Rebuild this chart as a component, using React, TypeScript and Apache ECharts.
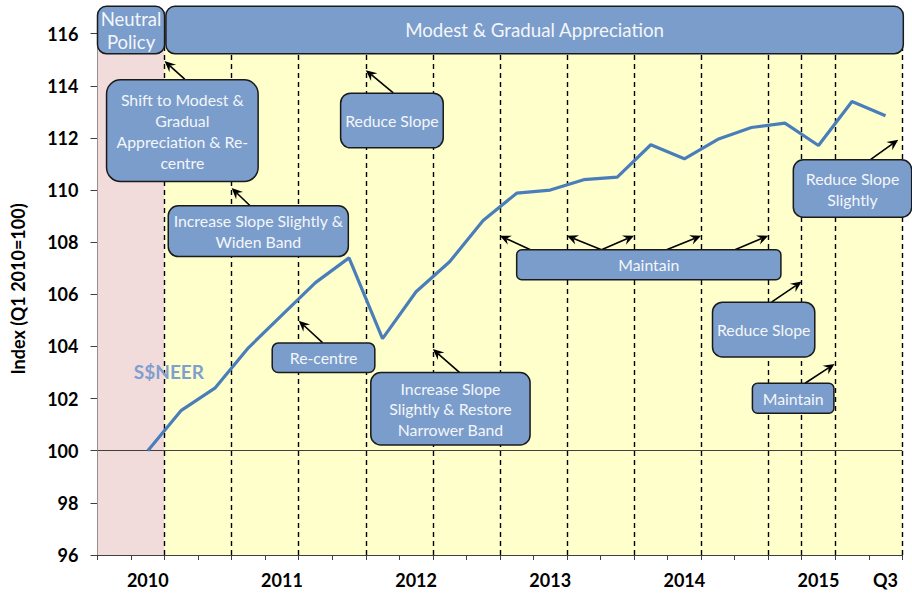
import React, { useEffect, useRef } from 'react';
import * as echarts from 'echarts';

// ---- data ----
const quarters = [
  '2009 Q4', '2010 Q1', '2010 Q2', '2010 Q3', '2010 Q4', '2011 Q1', '2011 Q2', '2011 Q3',
  '2011 Q4', '2012 Q1', '2012 Q2', '2012 Q3', '2012 Q4', '2013 Q1', '2013 Q2', '2013 Q3',
  '2013 Q4', '2014 Q1', '2014 Q2', '2014 Q3', '2014 Q4', '2015 Q1', '2015 Q2', '2015 Q3',
];
const axisLabels = [
  '', '2010', '', '', '', '2011', '', '', '', '2012', '', '', '', '2013', '', '', '', '2014',
  '', '', '', '2015', '', 'Q3',
];
const sneer = [
  null, 100, 101.55, 102.4, 103.95, 105.2, 106.45, 107.4, 104.3, 106.1, 107.25, 108.83,
  109.88, 110.0, 110.4, 110.5, 111.74, 111.2, 111.95, 112.4, 112.57, 111.71, 113.4, 112.85,
];
const yMin = 96;
const yMax = 116;
const yStep = 2;
// policy statement dates, in quarter-boundary units (0 = start of 2009 Q4)
const policyDates = [2, 4, 6, 8, 10, 12, 14, 16, 18, 20, 21, 22, 24];
const neutralPeriod = [0, 2];
const appreciationPeriod = [2, 24];
const seriesName = 'S$NEER';

// ---- annotation layout (data units: quarter boundary, index value) ----
type Ann = {
  text: string;
  box: [number, number, number, number];
  size: number;
  lh: number;
  r?: number;
  arrows?: [number, number, number, number][];
};
const annotations: Ann[] = [
  { text: 'Neutral\nPolicy', box: [0, 117.05, 2.0, 115.23], size: 18.5, lh: 23, r: 9 },
  { text: 'Modest & Gradual Appreciation', box: [2.04, 117.05, 24.03, 115.23], size: 18.7, lh: 22, r: 9 },
  {
    text: 'Shift to Modest &\nGradual\nAppreciation & Re-\ncentre', box: [0.27, 114.23, 4.79, 110.33],
    size: 15.8, lh: 21, r: 14, arrows: [[2.6, 114.26, 2.0, 114.95]],
  },
  {
    text: 'Reduce Slope', box: [7.25, 113.72, 10.31, 111.62], size: 15.8, lh: 20, r: 10,
    arrows: [[8.82, 113.73, 8.0, 114.6]],
  },
  {
    text: 'Increase Slope Slightly &\nWiden Band', box: [2.11, 109.4, 7.48, 107.45], size: 15.8, lh: 20.7, r: 10,
    arrows: [[4.55, 109.4, 4.0, 110.08]],
  },
  {
    text: 'Re-centre', box: [5.21, 104.13, 8.27, 103.0], size: 15.8, lh: 20, r: 6,
    arrows: [[6.71, 104.15, 6.0, 104.99]],
  },
  {
    text: 'Increase Slope\nSlightly & Restore\nNarrower Band', box: [8.15, 103.0, 12.9, 100.22], size: 15.8, lh: 20.7, r: 10,
    arrows: [[10.81, 102.99, 10.0, 103.9]],
  },
  {
    text: 'Maintain', box: [12.5, 107.71, 20.38, 106.56], size: 15.8, lh: 20, r: 5,
    arrows: [
      [12.91, 107.71, 12.0, 108.25],
      [15.03, 107.71, 14.0, 108.25],
      [15.03, 107.71, 16.0, 108.25],
      [16.97, 107.71, 18.0, 108.25],
      [19.01, 107.71, 20.0, 108.25],
    ],
  },
  {
    text: 'Reduce Slope', box: [18.34, 105.7, 21.39, 103.6], size: 15.8, lh: 20, r: 10,
    arrows: [[20.1, 105.7, 21.0, 106.49]],
  },
  {
    text: 'Maintain', box: [19.53, 102.59, 21.96, 101.44], size: 15.8, lh: 20, r: 5,
    arrows: [[21.1, 102.59, 21.98, 103.33]],
  },
  {
    text: 'Reduce Slope\nSlightly', box: [20.75, 111.16, 24.28, 108.96], size: 15.8, lh: 21, r: 10,
    arrows: [[23.04, 111.16, 23.88, 111.93]],
  },
];

const FONT = 'Lato, "Open Sans", sans-serif';
const BOX_FILL = '#7A9DCB';
const TEXT_FILL = '#F4F6FA';

function arrowEls(x1: number, y1: number, x2: number, y2: number) {
  const dx = x2 - x1;
  const dy = y2 - y1;
  const len = Math.sqrt(dx * dx + dy * dy) || 1;
  const ux = dx / len;
  const uy = dy / len;
  const nx = -uy;
  const ny = ux;
  const L = 11;
  const W = 5;
  const notch = 0.65;
  const bx = x2 - ux * L;
  const by = y2 - uy * L;
  const mx = x2 - ux * L * notch;
  const my = y2 - uy * L * notch;
  return [
    {
      type: 'line', z: 99, silent: true,
      shape: { x1, y1, x2: mx, y2: my },
      style: { stroke: '#000', lineWidth: 1.6 },
    },
    {
      type: 'polygon', z: 99, silent: true,
      shape: { points: [[x2, y2], [bx + nx * W, by + ny * W], [mx, my], [bx - nx * W, by - ny * W]] },
      style: { fill: '#000' },
    },
  ];
}

export default function App() {
  const ref = useRef<HTMLDivElement>(null);
  useEffect(() => {
    if (!ref.current) return;
    const chart = echarts.init(ref.current, undefined, { renderer: 'svg' });
    const option: any = {
      animation: false,
      backgroundColor: '#ffffff',
      grid: { left: 97.5, right: 9.7, top: 33.7, bottom: 41, containLabel: false },
      xAxis: [
        {
          type: 'category',
          data: quarters,
          boundaryGap: true,
          axisLine: { lineStyle: { color: '#404040', width: 1 } },
          axisTick: { show: true, interval: 0, length: 5, lineStyle: { color: '#404040' } },
          axisLabel: {
            interval: 0,
            margin: 16,
            formatter: (_v: string, i: number) => axisLabels[i],
            color: '#000',
            fontFamily: FONT,
            fontWeight: 'bold',
            fontSize: 18,
          },
          splitLine: { show: false },
        },
        {
          type: 'value',
          min: 0,
          max: 24,
          show: false,
        },
      ],
      yAxis: {
        type: 'value',
        min: yMin,
        max: yMax,
        interval: yStep,
        axisLine: { show: true, lineStyle: { color: '#404040', width: 1 } },
        axisTick: { show: true, length: 7, lineStyle: { color: '#404040' } },
        axisLabel: {
          margin: 19,
          color: '#000',
          fontFamily: FONT,
          fontWeight: 'bold',
          fontSize: 18,
        },
        splitLine: { show: false },
      },
      series: [
        {
          type: 'line',
          name: 'regimes',
          xAxisIndex: 1,
          yAxisIndex: 0,
          data: [[0, yMin]],
          symbol: 'none',
          lineStyle: { opacity: 0 },
          silent: true,
          z: 1,
          markArea: {
            silent: true,
            data: [
              [{ xAxis: neutralPeriod[0], itemStyle: { color: '#F2DCDB' } }, { xAxis: neutralPeriod[1] }],
              [{ xAxis: appreciationPeriod[0], itemStyle: { color: '#FFFFCC' } }, { xAxis: appreciationPeriod[1] }],
            ],
          },
          markLine: {
            silent: true,
            symbol: 'none',
            label: { show: false },
            data: [
              ...policyDates.map((q) => ({
                xAxis: q,
                lineStyle: { type: [5, 4], color: '#000', width: 1.4 },
              })),
              { yAxis: 100, lineStyle: { type: 'solid', color: '#404040', width: 1 } },
            ],
          },
        },
        {
          type: 'line',
          name: seriesName,
          xAxisIndex: 0,
          yAxisIndex: 0,
          data: sneer,
          showSymbol: false,
          symbol: 'none',
          lineStyle: { color: '#4A7EBB', width: 3.2 },
          z: 5,
        },
      ],
    };
    chart.setOption(option);

    const X = (q: number) => chart.convertToPixel({ xAxisIndex: 1 } as any, q) as number;
    const Y = (v: number) => chart.convertToPixel({ yAxisIndex: 0 } as any, v) as number;

    const graphics: any[] = [];
    for (const a of annotations) {
      const x0 = X(a.box[0]);
      const y0 = Y(a.box[1]);
      const x1 = X(a.box[2]);
      const y1 = Y(a.box[3]);
      graphics.push({
        type: 'rect', z: 100, silent: true,
        shape: { x: x0, y: y0, width: x1 - x0, height: y1 - y0, r: a.r ?? 10 },
        style: { fill: BOX_FILL, stroke: '#1a1a1a', lineWidth: 1.5 },
      });
      graphics.push({
        type: 'text', z: 101, silent: true,
        x: (x0 + x1) / 2, y: (y0 + y1) / 2,
        style: {
          text: a.text, fill: TEXT_FILL, font: `${a.size}px ${FONT}`,
          align: 'center', verticalAlign: 'middle', lineHeight: a.lh,
        },
      });
      for (const ar of a.arrows || []) {
        graphics.push(...arrowEls(X(ar[0]), Y(ar[1]), X(ar[2]), Y(ar[3])));
      }
    }
    // series label
    graphics.push({
      type: 'text', z: 102, silent: true,
      x: X(2.13), y: Y(103.04),
      style: {
        text: seriesName, fill: '#7F9FCE', font: `bold 19px ${FONT}`,
        align: 'center', verticalAlign: 'middle',
      },
    });
    // y-axis title
    graphics.push({
      type: 'text', z: 102, silent: true,
      x: 18, y: 289, rotation: Math.PI / 2,
      style: {
        text: 'Index (Q1 2010=100)', fill: '#000', font: `bold 18px ${FONT}`,
        align: 'center', verticalAlign: 'middle',
      },
    });
    chart.setOption({ graphic: graphics });

    return () => chart.dispose();
  }, []);
  return (
    <div
      ref={ref}
      style={{ position: 'fixed', left: 0, top: 0, width: 912, height: 596, background: '#fff' }}
    />
  );
}
